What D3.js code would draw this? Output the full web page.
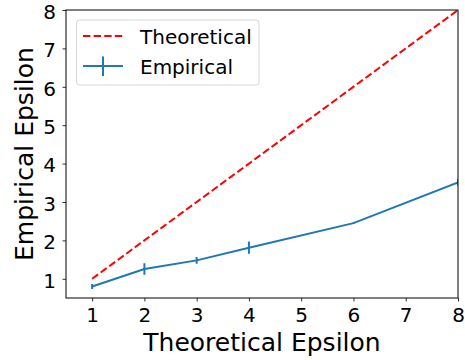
<!DOCTYPE html>
<html><head><meta charset="utf-8">
<script src="https://cdn.jsdelivr.net/npm/d3@7"></script>
<style>body{margin:0;background:#fff}svg{display:block}text{font-family:"DejaVu Sans",sans-serif}</style>
</head><body>
<svg id="c" width="465" height="360"></svg>
<script>
const theoX = [1, 8];
const theoY = [1, 8];
const empX = [1, 2, 3, 4, 6, 8];
const empY = [0.80, 1.255, 1.48, 1.81, 2.45, 3.51];
const empErr = [0.065, 0.15, 0.087, 0.16, 0.02, 0.09];
const xTicks = [1, 2, 3, 4, 5, 6, 7, 8];
const yTicks = [1, 2, 3, 4, 5, 6, 7, 8];
const labels = {x: "Theoretical Epsilon", y: "Empirical Epsilon", theo: "Theoretical", emp: "Empirical"};

const svg = d3.select("#c");
const L = 66, R = 458, T = 10, B = 298;
const x = d3.scaleLinear().domain([0.5, 8]).range([L, R]);
const y = d3.scaleLinear().domain([0.5, 8]).range([B, T]);

svg.append("defs").append("clipPath").attr("id", "clip")
  .append("rect").attr("x", L).attr("y", T).attr("width", R - L).attr("height", B - T);

const plot = svg.append("g").attr("clip-path", "url(#clip)");
const blue = "#1f77b4";

plot.append("path")
  .datum(theoX.map((d, i) => [d, theoY[i]]))
  .attr("d", d3.line().x(d => x(d[0])).y(d => y(d[1])))
  .attr("fill", "none").attr("stroke", "red").attr("stroke-width", 2)
  .attr("stroke-dasharray", "7.4,3.2");

plot.append("path")
  .datum(empX.map((d, i) => [d, empY[i]]))
  .attr("d", d3.line().x(d => x(d[0])).y(d => y(d[1])))
  .attr("fill", "none").attr("stroke", blue).attr("stroke-width", 2);

plot.selectAll(".err").data(empX).enter().append("line")
  .attr("x1", d => x(d)).attr("x2", d => x(d))
  .attr("y1", (d, i) => y(empY[i] - empErr[i]))
  .attr("y2", (d, i) => y(empY[i] + empErr[i]))
  .attr("stroke", blue).attr("stroke-width", 2);

const xa = svg.append("g").attr("transform", `translate(0,${B})`)
  .call(d3.axisBottom(x).tickValues(xTicks).tickSize(3.5).tickPadding(6.5).tickFormat(d3.format("d")));
const ya = svg.append("g").attr("transform", `translate(${L},0)`)
  .call(d3.axisLeft(y).tickValues(yTicks).tickSize(3.5).tickPadding(6.5).tickFormat(d3.format("d")));
[xa, ya].forEach(a => {
  a.select(".domain").remove();
  a.selectAll("text").attr("font-size", 20).attr("fill", "#000").attr("font-family", "DejaVu Sans");
  a.selectAll("line").attr("stroke", "#000").attr("stroke-width", 0.8);
});
ya.selectAll("text").attr("dy", "0.41em");

svg.append("rect").attr("x", L).attr("y", T).attr("width", R - L).attr("height", B - T)
  .attr("fill", "none").attr("stroke", "#000").attr("stroke-width", 1);

svg.append("text").attr("x", (L + R) / 2).attr("y", 351).attr("text-anchor", "middle")
  .attr("font-size", 25).text(labels.x);
svg.append("text").attr("transform", `translate(33,${(T + B) / 2}) rotate(-90)`)
  .attr("text-anchor", "middle").attr("font-size", 25).text(labels.y);

// legend
const lg = svg.append("g");
lg.append("rect").attr("x", 76.5).attr("y", 20).attr("width", 182.5).attr("height", 65)
  .attr("rx", 3).attr("fill", "#fff").attr("fill-opacity", 0.8).attr("stroke", "#d6d6d6");
lg.append("line").attr("x1", 83).attr("x2", 123).attr("y1", 36).attr("y2", 36)
  .attr("stroke", "red").attr("stroke-width", 2).attr("stroke-dasharray", "7.4,3.2");
lg.append("line").attr("x1", 83).attr("x2", 123).attr("y1", 66).attr("y2", 66)
  .attr("stroke", blue).attr("stroke-width", 2);
lg.append("line").attr("x1", 103).attr("x2", 103).attr("y1", 56.5).attr("y2", 76)
  .attr("stroke", blue).attr("stroke-width", 2);
lg.append("text").attr("x", 140).attr("y", 44).attr("font-size", 20).text(labels.theo);
lg.append("text").attr("x", 140).attr("y", 74).attr("font-size", 20).text(labels.emp);
</script>
</body></html>
